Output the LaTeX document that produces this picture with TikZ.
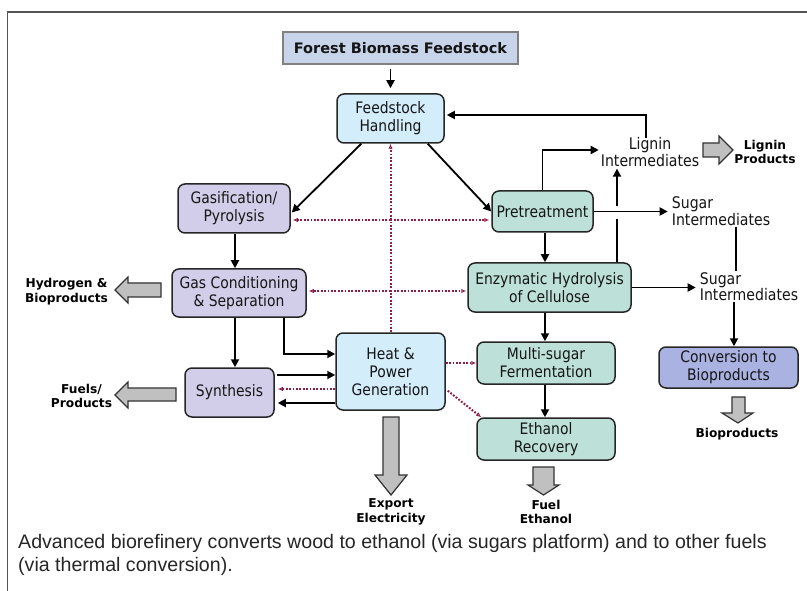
\documentclass[tikz,border=0pt]{standalone}
\usepackage{fontspec}
\setmainfont{DejaVu Sans}
\newfontfamily\boxfont{DejaVu Sans}[FakeStretch=0.88]
\newfontfamily\capfont{Liberation Sans}
\usetikzlibrary{arrows.meta,calc}
\definecolor{fbfcol}{HTML}{C8D4EA}
\definecolor{bluecol}{HTML}{D3EDFB}
\definecolor{lavcol}{HTML}{D2CEE9}
\definecolor{mintcol}{HTML}{BDE1D8}
\definecolor{periwcol}{HTML}{AAB2E2}
\definecolor{dotcol}{HTML}{8E1E45}
\definecolor{arrgray}{HTML}{C0C0C0}
\definecolor{framecol}{HTML}{555555}
\definecolor{txt}{HTML}{151515}
\begin{document}
\begin{tikzpicture}[x=1pt,y=-1pt,
  box/.style={draw=black!85, line width=1.5pt, rounded corners=7pt, align=center, inner sep=0pt, text=txt, font=\boxfont\fontsize{15.8}{18}\selectfont},
  lbl/.style={align=center, inner sep=1pt, text=txt, font=\boxfont\fontsize{16}{16.5}\selectfont},
  blbl/.style={align=center, inner sep=1pt, text=black, font=\fontsize{12.2}{14.8}\selectfont\bfseries},
  conn/.style={line width=1.8pt, -{Triangle[length=8pt,width=8pt]}},
  plain/.style={line width=1.8pt},
  dotl/.style={dotcol, line width=2pt, dash pattern=on 1.8pt off 1.6pt, -{Latex[open,length=5pt,width=4.5pt,line width=0.9pt]}},
  barrow/.style={fill=arrgray, draw=black!80, line width=1.2pt, line join=miter},
  captxt/.style={anchor=base west, inner sep=0pt, text=black!85, font=\capfont\fontsize{19.6}{23}\selectfont}
]
\useasboundingbox (0,0) rectangle (807,591);
\fill[white] (0,0) rectangle (807,591);
\draw[framecol,line width=1.6pt] (7.5,591) -- (7.5,12) -- (807,12);

% boxes
\node[box, fill=fbfcol, draw=black!50, rounded corners=0pt, line width=1.2pt, minimum width=235pt, minimum height=32pt, font=\fontsize{14.5}{17}\selectfont\bfseries] (fbf) at (400.5,48) {Forest Biomass Feedstock};
\node[box, fill=bluecol, minimum width=107pt, minimum height=49pt] (fh) at (390.5,118.5) {Feedstock\\Handling};
\node[box, fill=lavcol, minimum width=112pt, minimum height=49pt] (gp) at (234,208.5) {Gasification/\\Pyrolysis};
\node[box, fill=mintcol, minimum width=101pt, minimum height=41pt] (pt) at (542.5,211.5) {Pretreatment};
\node[box, fill=lavcol, minimum width=134pt, minimum height=48pt] (gc) at (239,293) {Gas Conditioning\\\& Separation};
\node[box, fill=mintcol, minimum width=163pt, minimum height=49pt] (enz) at (549.5,287.5) {Enzymatic Hydrolysis\\of Cellulose};
\node[box, fill=bluecol, minimum width=109pt, minimum height=77pt] (hp) at (390.5,371.5) {Heat \&\\Power\\Generation};
\node[box, fill=mintcol, minimum width=138pt, minimum height=42pt] (ms) at (546,363) {Multi-sugar\\Fermentation};
\node[box, fill=lavcol, minimum width=89pt, minimum height=49pt] (syn) at (229.5,392.5) {Synthesis};
\node[box, fill=mintcol, minimum width=138pt, minimum height=42pt] (er) at (546,439) {Ethanol\\Recovery};
\node[box, fill=periwcol, minimum width=139pt, minimum height=41pt] (cb) at (728.5,367.5) {Conversion to\\Bioproducts};

% labels
\node[lbl] (li) at (650,152) {Lignin\\Intermediates};
\node[blbl] (lp) at (765,152) {Lignin\\Products};
\node[lbl, align=left] (si1) at (721,211) {Sugar\\Intermediates};
\node[lbl, align=left] (si2) at (749,286.5) {Sugar\\Intermediates};
\node[blbl] (hb) at (66.5,292) {Hydrogen \&\\Bioproducts};
\node[blbl] (fp) at (81.5,396) {Fuels/\\Products};
\node[blbl] (ee) at (391,512) {Export\\Electricity};
\node[blbl] (fe) at (546,512) {Fuel\\Ethanol};
\node[blbl] (bp) at (737,434) {Bioproducts};

\node[captxt] (cap1) at (18,548) {Advanced biorefinery converts wood to ethanol (via sugars platform) and to other fuels};
\node[captxt] (cap2) at (18,571) {(via thermal conversion).};

% block arrows
\draw[barrow] (733,150) -- (719,136) -- (719,143) -- (703,143) -- (703,157) -- (719,157) -- (719,164) -- cycle;
\draw[barrow] (115,290) -- (128,277) -- (128,283) -- (161,283) -- (161,297) -- (128,297) -- (128,303) -- cycle;
\draw[barrow] (115,395) -- (128,382) -- (128,388) -- (176,388) -- (176,401) -- (128,401) -- (128,408) -- cycle;
\draw[barrow] (391,495) -- (375,475) -- (383,475) -- (383,417) -- (399,417) -- (399,475) -- (407,475) -- cycle;
\draw[barrow] (543.5,495) -- (528,485) -- (533,485) -- (533,467) -- (554,467) -- (554,485) -- (559,485) -- cycle;
\draw[barrow] (738,423) -- (722,413) -- (732,413) -- (732,397) -- (745,397) -- (745,413) -- (753,413) -- cycle;

% helper coordinates
\coordinate (ytop) at (0,115);
\coordinate (vx) at (617,0);
\coordinate (gapT) at (617,206);
\coordinate (gapB) at (617,219);
\coordinate (ax) at (545,0);
\coordinate (gx) at (235,0);
\coordinate (sx) at (736,0);
\coordinate (cx) at (734,0);
\coordinate (hx) at (284,0);
\coordinate (y354) at (0,354);
\coordinate (y375) at (0,375);
\coordinate (y389) at (0,389);
\coordinate (y403) at (0,403);
\coordinate (j1) at (390.5,220);
\coordinate (j2) at (390.5,291);

% solid connectors
\draw[conn,shorten <=4pt,shorten >=5pt] (fbf.south -| fh.north) -- (fh.north);
\draw[conn] ($(fh.south west)+(25,0)$) -- ($(gp.east)+(1,4)$);
\draw[conn] ($(fh.south east)+(-17,0)$) -- (pt.west);
\draw[conn] (gp.south -| gx) -- (gc.north -| gx);
\draw[conn] ($(li.north)+(-4,2)$) |- ($(ytop -| fh.east)+(2,0)$);
\draw[conn] (pt.north) |- ($(li.west)+(-1,-2)$);
\draw[conn] (pt.east) -- ($(pt.east -| si1.west)+(-3,0)$);
\draw[plain] (enz.north -| vx) -- (gapB);
\draw[conn] (gapT) -- ($(li.south -| vx)+(0,1)$);
\draw[conn] (enz.east) -- ($(enz.east -| si2.west)+(-3,0)$);
\draw[line width=1.4pt] (si1.south -| sx) -- (si2.north -| sx);
\draw[conn] (si2.south -| cx) -- (cb.north -| cx);
\draw[conn] (pt.south -| ax) -- (enz.north -| ax);
\draw[conn] (enz.south -| ax) -- (ms.north -| ax);
\draw[conn] (ms.south -| ax) -- (er.north -| ax);
\draw[conn] (gc.south -| gx) -- (syn.north -| gx);
\draw[conn] (gc.south -| hx) |- (y354 -| hp.west);
\draw[conn] ($(y375 -| syn.east)+(2,0)$) -- (y375 -| hp.west);
\draw[conn] (y403 -| hp.west) -- ($(y403 -| syn.east)+(3,0)$);

% dotted connectors
\draw[dotl] (hp.north) -- (fh.south);
\draw[dotl] (j1) -- ($(j1 -| gp.east)+(2,0)$);
\draw[dotl] (j1) -- ($(j1 -| pt.west)+(-2,0)$);
\draw[dotl] (j2) -- ($(j2 -| gc.east)+(2,0)$);
\draw[dotl] (j2) -- ($(j2 -| enz.west)+(-1,0)$);
\draw[dotl] (ms.west -| hp.east) -- (ms.west);
\draw[dotl] ($(hp.south east)+(2,-20)$) -- ($(er.north west)+(5,0)$);
\draw[dotl] (y389 -| hp.west) -- ($(y389 -| syn.east)+(3,0)$);
\end{tikzpicture}
\end{document}
